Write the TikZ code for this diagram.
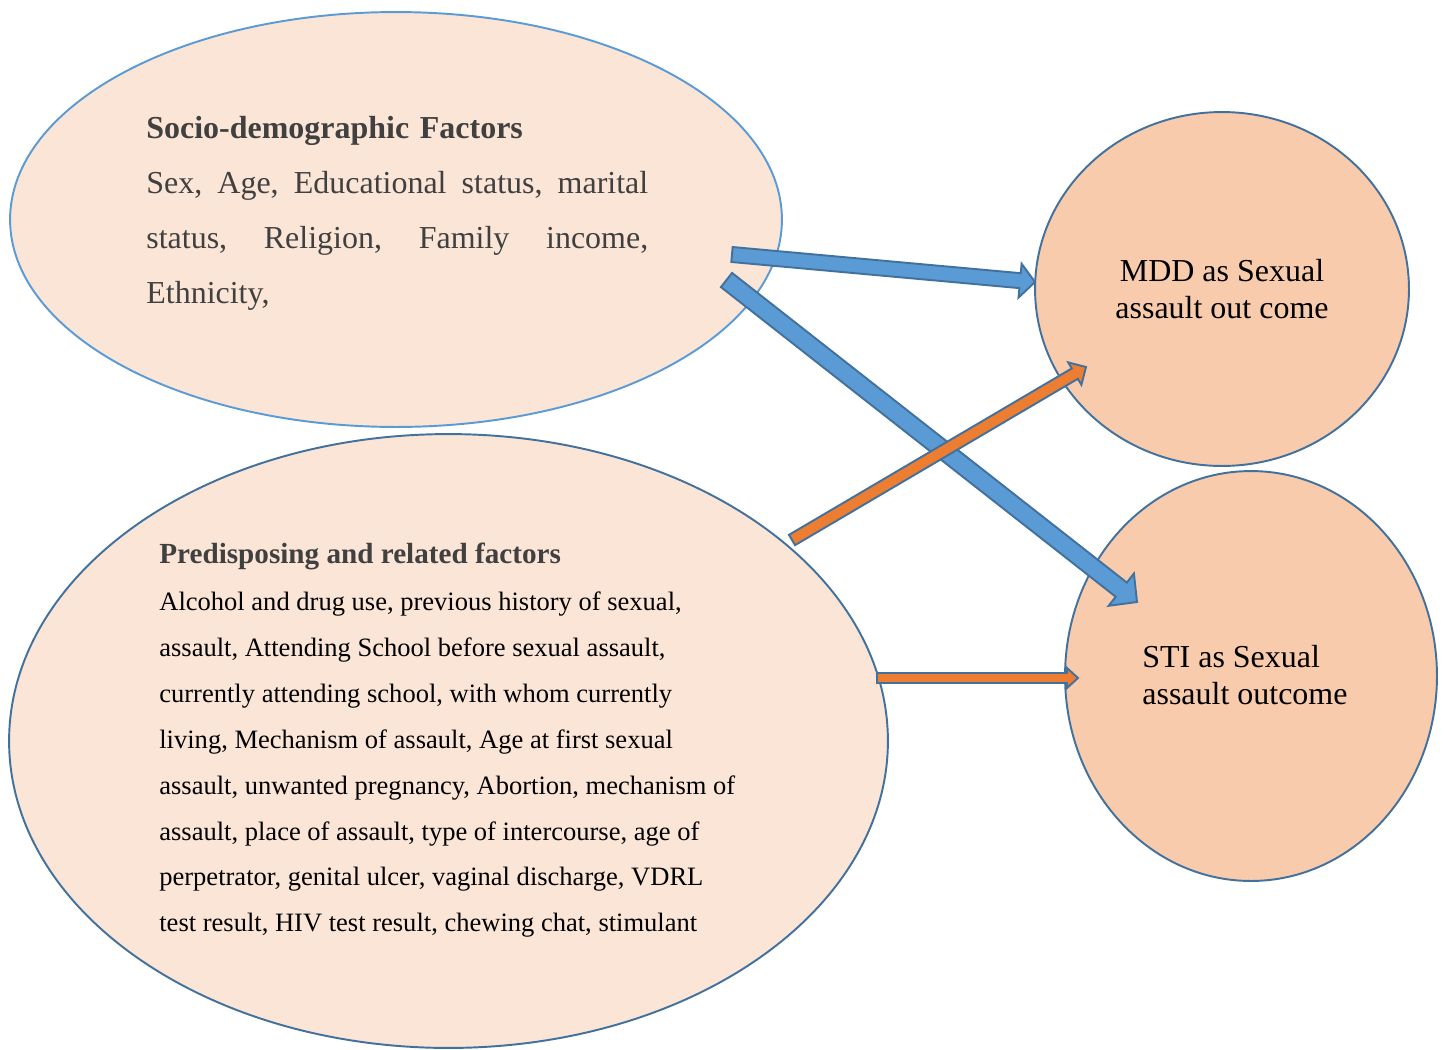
\documentclass[tikz,border=0pt]{standalone}
\usepackage{fontspec}
\setmainfont{Liberation Serif}
\usepackage{xcolor}
\usepackage{tikz}
\usetikzlibrary{
	shapes.geometric,calc
}
\definecolor{peachlight}{HTML}{FBE5D6}
\definecolor{peach}{HTML}{F8CBAD}
\definecolor{bluefill}{HTML}{5B9BD5}
\definecolor{blueline}{HTML}{41719C}
\definecolor{orangefill}{HTML}{ED7D31}
\definecolor{textgray}{HTML}{404040}
% block arrow: style, name, from, to, shaft half width, head half width, head length
\newcommand{\blockarrow}[7]{%
	\coordinate (#2h) at ($(#4)!#7!(#3)$);
	\draw[#1] ($(#3)!#5!90:(#4)$) -- ($(#2h)!#5!90:(#4)$) -- ($(#2h)!#6!90:(#4)$)
		-- (#4) -- ($(#2h)!#6!-90:(#4)$) -- ($(#2h)!#5!-90:(#4)$) -- ($(#3)!#5!-90:(#4)$) -- cycle;
}

\begin{document}
\begin{tikzpicture}[x=0.02cm,y=-0.02cm,
	factor/.style={ellipse,fill=peachlight,draw=blueline,line width=1.1pt,inner sep=0},
	outcome/.style={ellipse,fill=peach,draw=blueline,line width=1.1pt,inner sep=0},
	bluearrow/.style={fill=bluefill,draw=blueline,line width=1.1pt},
	orangearrow/.style={fill=orangefill,draw=blueline,line width=1.1pt}]
	\useasboundingbox (0,0) rectangle (1446,1049);
	\node[factor,draw=bluefill,minimum width=15.44cm,minimum height=8.30cm] (socio) at (396,219.5) {};
	\node[factor,minimum width=17.58cm,minimum height=12.28cm] (predis) at (448.5,741) {};
	\node[outcome,minimum width=7.48cm,minimum height=7.08cm] (mdd) at (1222,289) {};
	\node[outcome,minimum width=7.44cm,minimum height=8.20cm] (sti) at (1251,676) {};
	%
	\node[anchor=base west,inner sep=0,text width=10.04cm,align=left,text=textgray,
		font=\fontsize{18.2}{31.3}\selectfont] (sociotxt) at (146,138.3)
		{\textbf{Socio-demographic Factors}\\
		\makebox[10.04cm][s]{Sex,\hfill Age,\hfill Educational\hfill status,\hfill marital}\\
		\makebox[10.04cm][s]{status,\hfill Religion,\hfill Family\hfill income,}\\
		Ethnicity,};
	\node[anchor=base west,inner sep=0,align=left,font=\fontsize{15.1}{26.1}\selectfont] (predistxt) at (159,931.7)
		{{\fontsize{16.6}{26.1}\selectfont\bfseries\color{textgray}Predisposing and related factors}\\[1pt]
		Alcohol and drug use, previous history of sexual,\\
		assault, Attending School before sexual assault,\\
		currently attending school, with whom currently\\
		living, Mechanism of assault, Age at first sexual\\
		assault, unwanted pregnancy, Abortion, mechanism of\\
		assault, place of assault, type of intercourse, age of\\
		perpetrator, genital ulcer, vaginal discharge, VDRL\\
		test result, HIV test result, chewing chat, stimulant};
	\node[anchor=base,inner sep=0,align=center,font=\fontsize{18.2}{21}\selectfont] (mddtxt) at (1222,318.5)
		{MDD as Sexual\\assault out come};
	\node[anchor=base west,inner sep=0,align=left,font=\fontsize{18.2}{21}\selectfont] (stitxt) at (1142,704)
		{STI as Sexual\\assault outcome};
	%
	\coordinate (a1s) at (732,254.5);
	\coordinate (a1e) at (1035,282);
	\coordinate (a2s) at (726.5,280);
	\coordinate (a2e) at (1137,602);
	\coordinate (a3s) at (792,540);
	\coordinate (a3e) at (1086,367);
	\coordinate (a4s) at (877,678);
	\coordinate (a4e) at (1078,678);
	%
	\blockarrow{bluearrow}{a1}{a1s}{a1e}{0.15cm}{0.34cm}{0.30cm}
	\blockarrow{bluearrow}{a2}{a2s}{a2e}{0.18cm}{0.41cm}{0.40cm}
	\blockarrow{orangearrow}{a3}{a3s}{a3e}{0.12cm}{0.26cm}{0.26cm}
	\blockarrow{orangearrow}{a4}{a4s}{a4e}{0.10cm}{0.20cm}{0.22cm}
\end{tikzpicture}
\end{document}
